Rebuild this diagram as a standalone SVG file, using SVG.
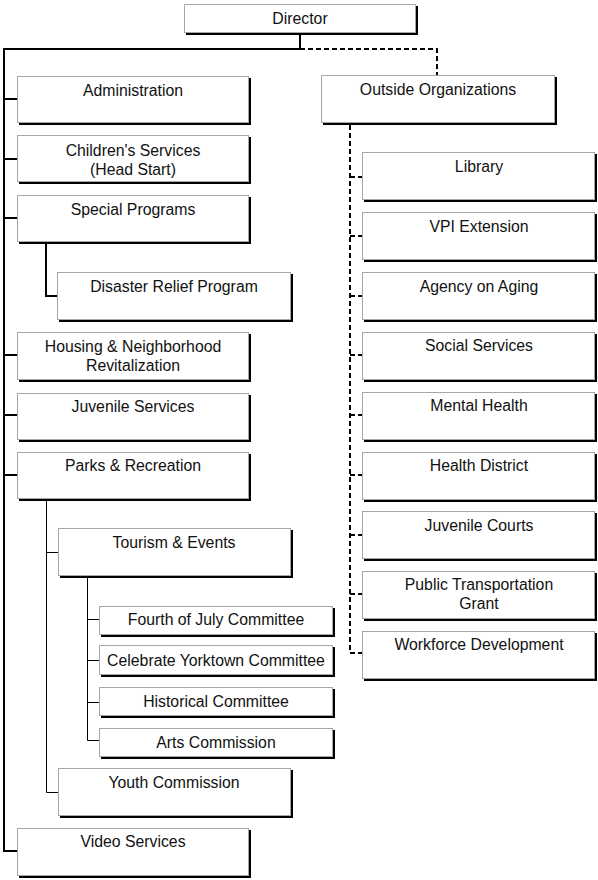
<svg xmlns="http://www.w3.org/2000/svg" width="598" height="880" viewBox="0 0 598 880">
<defs>
<style>
.sh{fill:#000}
.bx{fill:#fff;stroke:#a6a6a6;stroke-width:1}
text{font-family:"Liberation Sans",Arial,sans-serif;font-size:15.8px;fill:#111;text-anchor:middle}
.s2{fill:none;stroke:#000;stroke-width:2}
.s1{fill:none;stroke:#000;stroke-width:1}
.d2{fill:none;stroke:#000;stroke-width:2;stroke-dasharray:5 3}
</style>
</defs>
<rect width="598" height="880" fill="#fff"/>
<g id="connectors">
<path class="s2" d="M300,34 V49 H4 V851 H17"/>
<path class="s2" d="M4,99 H17 M4,159 H17 M4,218 H17 M4,355 H17 M4,415 H17 M4,475 H17"/>
<path class="s2" d="M46,243 V296 H57"/>
<path class="s1" d="M46.5,500 V792.5 H58 M46.5,552.5 H58"/>
<path class="s1" d="M87.5,577 V740.5 H99 M87.5,619.5 H99 M87.5,660.5 H99 M87.5,702.5 H99"/>
<path class="d2" d="M300,49 H437 V75"/>
<path class="d2" d="M350,125 V653 H362"/>
<path class="d2" d="M350,177 H362 M350,236 H362 M350,296 H362 M350,355 H362 M350,415 H362 M350,475 H362 M350,535 H362 M350,594 H362"/>
</g>
<g id="director"><rect class="sh" x="186" y="6" width="232" height="29"/><rect class="bx" x="184.5" y="4.5" width="231" height="28"/><text x="300" y="24">Director</text></g>
<g id="administration"><rect class="sh" x="19" y="78" width="232" height="47"/><rect class="bx" x="17.5" y="76.5" width="231" height="46"/><text x="133" y="96">Administration</text></g>
<g id="childrens-services"><rect class="sh" x="19" y="137" width="232" height="47"/><rect class="bx" x="17.5" y="135.5" width="231" height="46"/><text x="133" y="156">Children's Services</text><text x="133" y="174.5">(Head Start)</text></g>
<g id="special-programs"><rect class="sh" x="19" y="197" width="232" height="47"/><rect class="bx" x="17.5" y="195.5" width="231" height="46"/><text x="133" y="215">Special Programs</text></g>
<g id="disaster-relief"><rect class="sh" x="59" y="274" width="234" height="48"/><rect class="bx" x="57.5" y="272.5" width="233" height="47"/><text x="174" y="292">Disaster Relief Program</text></g>
<g id="housing"><rect class="sh" x="19" y="334" width="232" height="48"/><rect class="bx" x="17.5" y="332.5" width="231" height="47"/><text x="133" y="352">Housing &amp; Neighborhood</text><text x="133" y="370.5">Revitalization</text></g>
<g id="juvenile-services"><rect class="sh" x="19" y="395" width="232" height="47"/><rect class="bx" x="17.5" y="393.5" width="231" height="46"/><text x="133" y="412">Juvenile Services</text></g>
<g id="parks-recreation"><rect class="sh" x="19" y="454" width="232" height="47"/><rect class="bx" x="17.5" y="452.5" width="231" height="46"/><text x="133" y="471">Parks &amp; Recreation</text></g>
<g id="tourism-events"><rect class="sh" x="60" y="530" width="233" height="48"/><rect class="bx" x="58.5" y="528.5" width="232" height="47"/><text x="174" y="548">Tourism &amp; Events</text></g>
<g id="fourth-of-july"><rect class="sh" x="101" y="608" width="234" height="29"/><rect class="bx" x="99.5" y="606.5" width="233" height="28"/><text x="216" y="625">Fourth of July Committee</text></g>
<g id="celebrate-yorktown"><rect class="sh" x="101" y="647" width="234" height="30"/><rect class="bx" x="99.5" y="645.5" width="233" height="29"/><text x="216" y="666">Celebrate Yorktown Committee</text></g>
<g id="historical-committee"><rect class="sh" x="101" y="689" width="234" height="29"/><rect class="bx" x="99.5" y="687.5" width="233" height="28"/><text x="216" y="707">Historical Committee</text></g>
<g id="arts-commission"><rect class="sh" x="101" y="730" width="234" height="29"/><rect class="bx" x="99.5" y="728.5" width="233" height="28"/><text x="216" y="748">Arts Commission</text></g>
<g id="youth-commission"><rect class="sh" x="60" y="770" width="233" height="48"/><rect class="bx" x="58.5" y="768.5" width="232" height="47"/><text x="174" y="788">Youth Commission</text></g>
<g id="video-services"><rect class="sh" x="19" y="830" width="232" height="48"/><rect class="bx" x="17.5" y="828.5" width="231" height="47"/><text x="133" y="847">Video Services</text></g>
<g id="outside-organizations"><rect class="sh" x="323" y="77" width="234" height="48"/><rect class="bx" x="321.5" y="75.5" width="233" height="47"/><text x="438" y="95">Outside Organizations</text></g>
<g id="library"><rect class="sh" x="364" y="154" width="233" height="48"/><rect class="bx" x="362.5" y="152.5" width="232" height="47"/><text x="479" y="172">Library</text></g>
<g id="vpi-extension"><rect class="sh" x="364" y="214" width="233" height="48"/><rect class="bx" x="362.5" y="212.5" width="232" height="47"/><text x="479" y="232">VPI Extension</text></g>
<g id="agency-on-aging"><rect class="sh" x="364" y="274" width="233" height="48"/><rect class="bx" x="362.5" y="272.5" width="232" height="47"/><text x="479" y="292">Agency on Aging</text></g>
<g id="social-services"><rect class="sh" x="364" y="334" width="233" height="48"/><rect class="bx" x="362.5" y="332.5" width="232" height="47"/><text x="479" y="351">Social Services</text></g>
<g id="mental-health"><rect class="sh" x="364" y="394" width="233" height="48"/><rect class="bx" x="362.5" y="392.5" width="232" height="47"/><text x="479" y="411">Mental Health</text></g>
<g id="health-district"><rect class="sh" x="364" y="454" width="233" height="48"/><rect class="bx" x="362.5" y="452.5" width="232" height="47"/><text x="479" y="471">Health District</text></g>
<g id="juvenile-courts"><rect class="sh" x="364" y="513" width="233" height="48"/><rect class="bx" x="362.5" y="511.5" width="232" height="47"/><text x="479" y="531">Juvenile Courts</text></g>
<g id="public-transportation"><rect class="sh" x="364" y="573" width="233" height="48"/><rect class="bx" x="362.5" y="571.5" width="232" height="47"/><text x="479" y="590">Public Transportation</text><text x="479" y="608.5">Grant</text></g>
<g id="workforce-development"><rect class="sh" x="364" y="633" width="233" height="48"/><rect class="bx" x="362.5" y="631.5" width="232" height="47"/><text x="479" y="650">Workforce Development</text></g>
</svg>
